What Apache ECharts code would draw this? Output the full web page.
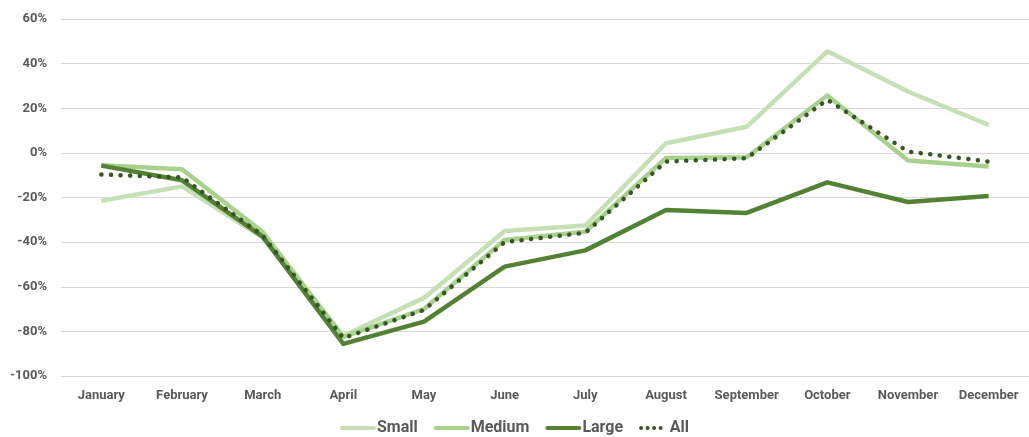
<!DOCTYPE html>
<html>
<head>
<meta charset="utf-8">
<script src="https://cdn.jsdelivr.net/npm/echarts@6/dist/echarts.min.js"></script>
<style>
html,body{margin:0;padding:0;background:#fff;}
#c{width:1029px;height:437px;}
</style>
</head>
<body>
<div id="c"></div>
<script>
const categories = ['January','February','March','April','May','June','July','August','September','October','November','December'];
const small  = [-21.5, -15, -38, -82, -65, -35, -32.6, 4.3, 11.7, 45.5, 27.5, 12.5];
const medium = [-5.5, -7.3, -35.5, -82.5, -70, -39, -35.3, -2.3, -2, 25.7, -3.4, -6.1];
const large  = [-5.7, -12.3, -37.5, -85.6, -75.6, -51, -43.7, -25.6, -26.9, -13.2, -22, -19.3];
const all    = [-9.7, -11, -37, -83, -70.4, -40, -35.8, -3.9, -2.4, 23.8, 0.6, -3.9];
const yTicks = { min: -100, max: 60, interval: 20 };

const font = '"Liberation Sans Narrow", "Roboto", sans-serif';
const lineIcon = 'path://M2,0H34A2,2 0 0 1 34,4H2A2,2 0 0 1 2,0Z';
const dotIcon = 'path://M0,2a2,2 0 1,0 4,0a2,2 0 1,0 -4,0ZM6.5,2a2,2 0 1,0 4,0a2,2 0 1,0 -4,0ZM13,2a2,2 0 1,0 4,0a2,2 0 1,0 -4,0ZM19.5,2a2,2 0 1,0 4,0a2,2 0 1,0 -4,0Z';
const chart = echarts.init(document.getElementById('c'), null, {renderer: 'canvas'});
const mk = (name, data, color, width, type) => ({
  name, type: 'line', data, showSymbol: false, symbol: 'none',
  lineStyle: { color, width, type: type || 'solid', cap: type ? 'round' : 'butt', join: 'round' },
  itemStyle: { color },
  emphasis: { disabled: true },
  animation: false
});
chart.setOption({
  animation: false,
  grid: { left: 61, right: -8, top: 19, bottom: 61, containLabel: false },
  legend: {
    bottom: -4, left: 'center', itemGap: 16, itemWidth: 36, itemHeight: 4,
    textStyle: { fontFamily: font, fontSize: 16, fontWeight: 'bold', color: '#595959', padding: [0,0,0,-4] },
    data: [
      { name: 'Small', icon: lineIcon },
      { name: 'Medium', icon: lineIcon },
      { name: 'Large', icon: lineIcon },
      { name: 'All', icon: dotIcon, itemStyle: { color: '#375623' } }
    ]
  },
  xAxis: {
    type: 'category', data: categories, boundaryGap: true,
    axisLine: { show: false }, axisTick: { show: false },
    axisLabel: { fontFamily: font, fontSize: 13, fontWeight: 'bold', color: '#595959', margin: 13, interval: 0 }
  },
  yAxis: {
    type: 'value', min: yTicks.min, max: yTicks.max, interval: yTicks.interval,
    axisLine: { show: false }, axisTick: { show: false },
    axisLabel: { fontFamily: font, fontSize: 13, fontWeight: 'bold', color: '#595959', margin: 14, formatter: v => v + '%' },
    splitLine: { lineStyle: { color: '#d9d9d9', width: 1 } }
  },
  series: [
    mk('Small', small, '#c5e0b4', 4.5),
    mk('Medium', medium, '#a9d18e', 4.5),
    mk('Large', large, '#548235', 4.5),
    mk('All', all, '#375623', 4.5, [0.1, 9.5])
  ]
});
</script>
</body>
</html>
